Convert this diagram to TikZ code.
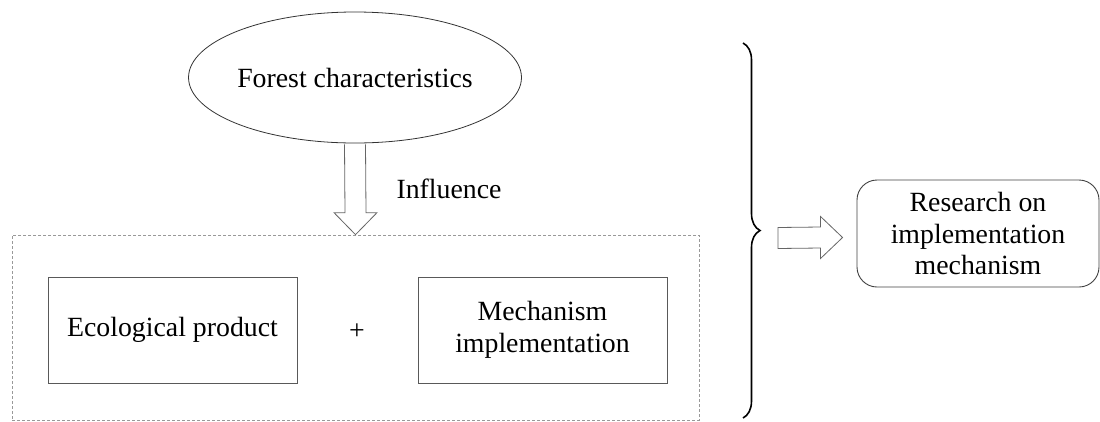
\documentclass[tikz,border=0pt]{standalone}
\usepackage{fontspec}
\setmainfont{Liberation Serif}
\usetikzlibrary{shapes.geometric,calc,decorations.pathreplacing}
\tikzset{
  txt/.style={font=\fontsize{27.8}{31.5}\selectfont, text=black},
  ellnode/.style={ellipse, draw=black!80, line width=0.8pt, minimum width=293pt, minimum height=131pt, inner sep=0pt, txt},
  boxnode/.style={rectangle, draw=black!65, line width=1pt, minimum width=249pt, minimum height=106pt, inner sep=0pt, align=center, txt},
  groupbox/.style={rectangle, draw=black!40, dashed, dash pattern=on 3pt off 2pt, line width=0.7pt, minimum width=687pt, minimum height=185pt, inner sep=0pt},
  roundbox/.style={rectangle, rounded corners=20pt, draw=black!75, line width=0.9pt, minimum width=242pt, minimum height=107pt, inner sep=0pt, align=center, txt},
  blockarrow/.style={draw=black!60, line width=0.8pt, fill=white, line join=miter},
  bracestyle/.style={decorate, decoration={brace, amplitude=17pt}, line width=1.6pt, draw=black}
}
\begin{document}
\begin{tikzpicture}[x=1pt,y=-1pt]
\useasboundingbox (0,0) rectangle (1100,421);
% nodes
\node[ellnode] (ell) at (355,77.5) {Forest characteristics};
\node[groupbox] (grp) at (355.5,327.5) {};
\node[boxnode] (eco) at (172.5,330) {Ecological product};
\node[boxnode] (mech) at (542.5,330) {Mechanism\\implementation};
\node[txt] (plus) at (357,332) {+};
\node[txt, anchor=base west] (infl) at (393,198) {Influence};
\node[roundbox] (res) at (978,233.5) {Research on\\implementation\\mechanism};
% block arrow down
\draw[blockarrow]
  ($(ell.south)+(-10.5,1)$) -- ($(grp.north)+(-10.5,-22)$) -- ($(grp.north)+(-21.5,-22)$)
  -- (grp.north) -- ($(grp.north)+(21.5,-22)$) -- ($(grp.north)+(10.5,-22)$)
  -- ($(ell.south)+(10.5,1)$);
% brace
\coordinate (btop) at (743,43);
\coordinate (bbot) at (743,418);
\draw[bracestyle] (btop) -- (bbot);
% block arrow right
\coordinate (rtail) at ($(btop)!0.5!(bbot)+(35,7.5)$);
\coordinate (rtip) at ($(res.west)+(-14,4)$);
\draw[blockarrow]
  ($(rtail)+(0,-10.5)$) -- ($(rtip)+(-22,-10.5)$) -- ($(rtip)+(-22,-21)$)
  -- (rtip) -- ($(rtip)+(-22,21)$) -- ($(rtip)+(-22,10.5)$) -- ($(rtail)+(0,10.5)$) -- cycle;
\end{tikzpicture}
\end{document}
